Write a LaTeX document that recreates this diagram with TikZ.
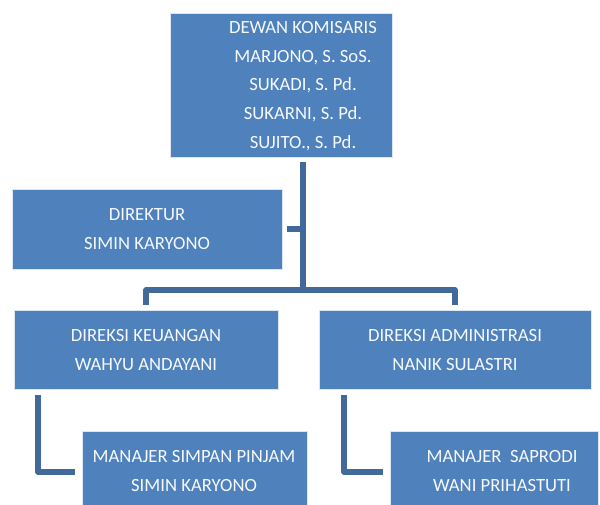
\documentclass[tikz,border=0pt]{standalone}
\usepackage{fontspec}
\setmainfont{Carlito}
\definecolor{boxblue}{HTML}{4F81BD}
\definecolor{lineblue}{HTML}{41699A}
\begin{document}
\begin{tikzpicture}[x=0.75pt,y=-0.75pt,
  box/.style={rectangle,fill=boxblue,draw=white!80!boxblue,line width=0.6pt,inner sep=0pt},
  txt/.style={text=white!95!boxblue,align=center,font=\fontsize{14}{21.5}\selectfont,inner sep=0pt},
  conn/.style={draw=lineblue,line width=3.8pt,line join=round,line cap=butt}]
\useasboundingbox (0,0) rectangle (600,505);
% boxes
\node[box,minimum width=222*0.75pt,minimum height=144*0.75pt] (top) at (281,85) {};
\node[txt] (toptxt) at (303,86) {DEWAN KOMISARIS\\MARJONO, S. SoS.\\SUKADI, S. Pd.\\SUKARNI, S. Pd.\\SUJITO., S. Pd.};
\node[box,minimum width=270*0.75pt,minimum height=80*0.75pt] (dir) at (147,229) {};
\node[txt] (dirtxt) at (147,229) {DIREKTUR\\SIMIN KARYONO};
\node[box,minimum width=264*0.75pt,minimum height=79*0.75pt] (keu) at (146,349.5) {};
\node[txt] (keutxt) at (146,350) {DIREKSI KEUANGAN\\WAHYU ANDAYANI};
\node[box,minimum width=272*0.75pt,minimum height=79*0.75pt] (adm) at (455,349.5) {};
\node[txt] (admtxt) at (455,350) {DIREKSI ADMINISTRASI\\NANIK SULASTRI};
\node[box,minimum width=225*0.75pt,minimum height=80*0.75pt] (msp) at (194.5,471) {};
\node[txt] (msptxt) at (194,471) {MANAJER SIMPAN PINJAM\\SIMIN KARYONO};
\node[box,minimum width=208*0.75pt,minimum height=80*0.75pt] (msap) at (494,471) {};
\node[txt] (msaptxt) at (502,471) {MANAJER\ \ SAPRODI\\WANI PRIHASTUTI};
% connector points
\coordinate (t0) at (303,162);
\coordinate (bus) at (303,290);
\coordinate (dj) at (303,229);
\coordinate (d0) at (287,229);
\coordinate (bl) at (146,290);
\coordinate (br) at (455,290);
\coordinate (kl) at (146,305);
\coordinate (al) at (455,305);
\coordinate (k1) at (38,395);
\coordinate (k2) at (38,472);
\coordinate (k3) at (75,472);
\coordinate (a1) at (344,395);
\coordinate (a2) at (344,472);
\coordinate (a3) at (383,472);
% connectors
\draw[conn] (t0) -- (bus);
\draw[conn] (d0) -- (dj);
\draw[conn] (kl) -- (bl) -- (br) -- (al);
\draw[conn] (k1) -- (k2) -- (k3);
\draw[conn] (a1) -- (a2) -- (a3);
\end{tikzpicture}
\end{document}
